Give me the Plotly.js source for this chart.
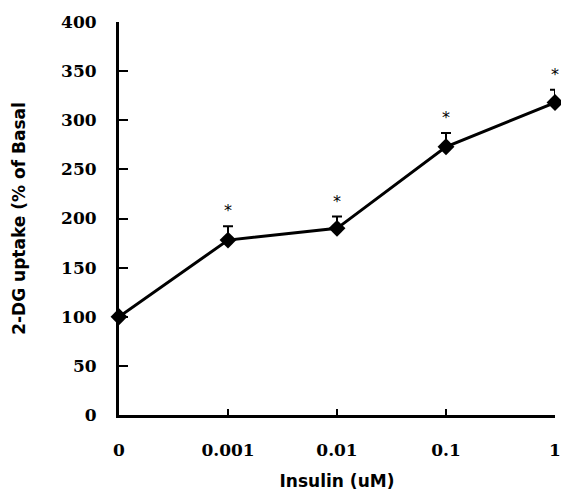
<!DOCTYPE html>
<html><head><meta charset="utf-8">
<script src="https://cdn.plot.ly/plotly-3.0.1.min.js"></script>
<style>html,body{margin:0;padding:0;background:#fff}</style>
</head><body>
<div id="chart" style="width:561px;height:493px"></div>
<script>
const categories = ["0", "0.001", "0.01", "0.1", "1"];
const uptake = [100, 178, 190, 273, 318];
const sem = [0, 14, 12, 14, 13];
const significant = ["", "*", "*", "*", "*"];
const yTicks = [0, 50, 100, 150, 200, 250, 300, 350, 400];

const xIdx = categories.map((c, i) => i);
const tickFont = {family: "DejaVu Serif", size: 17, color: "#000", weight: 700};
const titleFont = {family: "DejaVu Sans", size: 17, color: "#000", weight: 700};

const trace = {
  x: xIdx, y: uptake, type: "scatter", mode: "lines+markers",
  line: {color: "#000", width: 3},
  marker: {symbol: "diamond", size: 13, color: "#000"},
  error_y: {type: "data", symmetric: false, array: sem, arrayminus: sem.map(() => 0),
            color: "#000", thickness: 2, width: 5},
  cliponaxis: false, hoverinfo: "none"
};

const annotations = [];
xIdx.forEach((x, i) => {
  if (significant[i]) annotations.push({
    x: x, y: uptake[i] + sem[i], xref: "x", yref: "y", text: significant[i],
    showarrow: false, yanchor: "bottom", yshift: 4,
    font: {family: "DejaVu Sans", size: 16, color: "#000000"}
  });
});

const layout = {
  width: 561, height: 493,
  margin: {l: 119, r: 6, t: 22, b: 78},
  paper_bgcolor: "#fff", plot_bgcolor: "#fff",
  showlegend: false,
  xaxis: {
    range: [0, 4], tickvals: xIdx, ticktext: categories,
    showline: true, linecolor: "#000", linewidth: 3,
    ticks: "inside", ticklen: 6, tickwidth: 2, tickcolor: "#000",
    showgrid: false, zeroline: false, tickfont: tickFont, ticklabelstandoff: 18,
    title: {text: "Insulin (uM)", font: titleFont, standoff: 16}
  },
  yaxis: {
    range: [0, 400], tickvals: yTicks,
    showline: true, linecolor: "#000", linewidth: 3,
    ticks: "inside", ticklen: 9, tickwidth: 2, tickcolor: "#000",
    showgrid: false, zeroline: false, tickfont: tickFont, ticklabelstandoff: 16,
    title: {text: "2-DG uptake (% of Basal", font: titleFont, standoff: 32}
  },
  annotations: annotations
};

Plotly.newPlot("chart", [trace], layout, {displayModeBar: false, staticPlot: true});
</script>
</body></html>
